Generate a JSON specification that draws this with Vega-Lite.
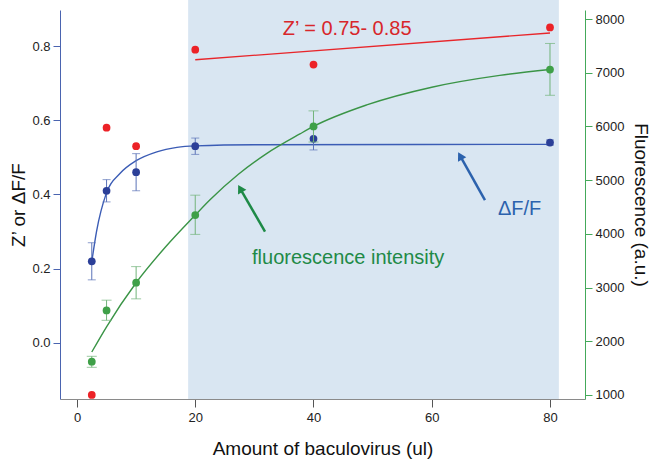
{
  "$schema": "https://vega.github.io/schema/vega-lite/v6.json",
  "width": 525,
  "height": 389,
  "autosize": {"type": "none"},
  "padding": {"left": 60, "top": 10, "right": 75, "bottom": 63},
  "background": "white",
  "config": {
    "font": "Liberation Sans",
    "view": {"stroke": null},
    "axis": {"grid": false, "labelFontSize": 13, "labelColor": "#222222", "titleFontSize": 19, "titleFontWeight": "normal", "titleColor": "#111111", "labelFont": "Liberation Sans", "titleFont": "Liberation Sans"}
  },
  "datasets": {
    "shade": [{"x": 18.8, "x2": 81.5, "v": -0.151, "v2": 0.924}],
    "zfit": [{"x": 20, "v": 0.763}, {"x": 80, "v": 0.835}],
    "zpts": [{"x": 2.5, "v": -0.14}, {"x": 5, "v": 0.58}, {"x": 10, "v": 0.53}, {"x": 20, "v": 0.79}, {"x": 40, "v": 0.75}, {"x": 80, "v": 0.85}],
    "dff": [
      {"x": 2.5, "v": 0.22, "lo": 0.17, "hi": 0.27},
      {"x": 5, "v": 0.41, "lo": 0.38, "hi": 0.44},
      {"x": 10, "v": 0.46, "lo": 0.41, "hi": 0.51},
      {"x": 20, "v": 0.53, "lo": 0.508, "hi": 0.552},
      {"x": 40, "v": 0.55, "lo": 0.52, "hi": 0.58},
      {"x": 80, "v": 0.54, "lo": 0.533, "hi": 0.547}
    ],
    "dffit": [
      {"x": 2.5, "v": 0.219}, {"x": 3.3, "v": 0.30}, {"x": 5, "v": 0.405}, {"x": 7.3, "v": 0.457},
      {"x": 10, "v": 0.491}, {"x": 13.5, "v": 0.515}, {"x": 16.9, "v": 0.527}, {"x": 20, "v": 0.531},
      {"x": 30, "v": 0.534}, {"x": 80, "v": 0.535}
    ],
    "fl": [
      {"x": 2.5, "f": 1620, "lo": 1515, "hi": 1720},
      {"x": 5, "f": 2575, "lo": 2390, "hi": 2765},
      {"x": 10, "f": 3090, "lo": 2790, "hi": 3390},
      {"x": 20, "f": 4350, "lo": 3990, "hi": 4720},
      {"x": 40, "f": 6000, "lo": 5710, "hi": 6290},
      {"x": 80, "f": 7060, "lo": 6580, "hi": 7545}
    ],
    "flfit": [
      {"x": 2.5, "f": 1800}, {"x": 5, "f": 2270}, {"x": 10, "f": 3090}, {"x": 15, "f": 3760},
      {"x": 20, "f": 4350}, {"x": 22.5, "f": 4635}, {"x": 27.3, "f": 5110}, {"x": 32, "f": 5490},
      {"x": 37.7, "f": 5860}, {"x": 40, "f": 6000}, {"x": 49, "f": 6400}, {"x": 60, "f": 6730},
      {"x": 71.5, "f": 6950}, {"x": 80, "f": 7060}
    ],
    "arrows": [
      {"x": 69.0, "v": 0.385, "x2": 64.8, "v2": 0.504, "c": "b"},
      {"x": 31.8, "v": 0.300, "x2": 27.6, "v2": 0.416, "c": "g"}
    ],
    "heads": [
      {"x": 64.8, "v": 0.504, "c": "b"},
      {"x": 27.6, "v": 0.416, "c": "g"}
    ],
    "texts": [
      {"x": 34.8, "v": 0.8296, "t": "Z’ = 0.75- 0.85", "c": "r"},
      {"x": 71.2, "v": 0.345, "t": "ΔF/F", "c": "b"},
      {"x": 29.6, "v": 0.2128, "t": "fluorescence intensity", "c": "g"}
    ]
  },
  "encoding": {
    "x": {
      "field": "x", "type": "quantitative",
      "scale": {"domain": [-2.875, 85.92], "nice": false, "zero": false},
      "axis": {"values": [0, 20, 40, 60, 80], "title": "Amount of baculovirus (ul)", "domainColor": "#8a8a8a", "tickColor": "#555555", "tickSize": 8, "labelPadding": 4, "titlePadding": 15, "zindex": 1}
    }
  },
  "layer": [
    {"data": {"name": "shade"}, "mark": {"type": "rect", "color": "#d9e6f2"},
     "encoding": {"x2": {"field": "x2"},
       "y": {"field": "v", "type": "quantitative", "scale": {"domain": [-0.151, 0.897], "nice": false, "zero": false},
             "axis": {"orient": "left", "values": [0, 0.2, 0.4, 0.6, 0.8], "format": ".1f", "title": "Z’ or ΔF/F", "domainColor": "#4a64b0", "tickColor": "#4a64b0", "tickSize": 7, "labelPadding": 3, "titlePadding": 3, "zindex": 1}},
       "y2": {"field": "v2"}}},
    {"data": {"name": "zfit"}, "mark": {"type": "line", "color": "#e8262b", "strokeWidth": 1.3},
     "encoding": {"y": {"field": "v", "type": "quantitative", "scale": {"domain": [-0.151, 0.897], "nice": false, "zero": false}, "axis": null}}},
    {"data": {"name": "zpts"}, "mark": {"type": "point", "filled": true, "size": 60, "opacity": 1, "color": "#ec2227"},
     "encoding": {"y": {"field": "v", "type": "quantitative", "scale": {"domain": [-0.151, 0.897], "nice": false, "zero": false}, "axis": null}}},
    {"data": {"name": "dffit"}, "mark": {"type": "line", "interpolate": "monotone", "strokeWidth": 1.4, "color": "#3b5cb5"},
     "encoding": {"y": {"field": "v", "type": "quantitative", "scale": {"domain": [-0.151, 0.897], "nice": false, "zero": false}, "axis": null}}},
    {"data": {"name": "dff"}, "mark": {"type": "rule", "strokeWidth": 1, "color": "#5b73b8"},
     "encoding": {"y": {"field": "lo", "type": "quantitative", "scale": {"domain": [-0.151, 0.897], "nice": false, "zero": false}, "axis": null}, "y2": {"field": "hi"}}},
    {"data": {"name": "dff"}, "mark": {"type": "tick", "orient": "horizontal", "size": 8, "thickness": 1, "color": "#5b73b8"},
     "encoding": {"y": {"field": "lo", "type": "quantitative", "scale": {"domain": [-0.151, 0.897], "nice": false, "zero": false}, "axis": null}}},
    {"data": {"name": "dff"}, "mark": {"type": "tick", "orient": "horizontal", "size": 8, "thickness": 1, "color": "#5b73b8"},
     "encoding": {"y": {"field": "hi", "type": "quantitative", "scale": {"domain": [-0.151, 0.897], "nice": false, "zero": false}, "axis": null}}},
    {"data": {"name": "dff"}, "mark": {"type": "point", "filled": true, "size": 60, "opacity": 1, "color": "#2b3f98"},
     "encoding": {"y": {"field": "v", "type": "quantitative", "scale": {"domain": [-0.151, 0.897], "nice": false, "zero": false}, "axis": null}}},
    {"data": {"name": "arrows"}, "mark": {"type": "rule", "strokeWidth": 2.5},
     "encoding": {"x2": {"field": "x2"},
       "y": {"field": "v", "type": "quantitative", "scale": {"domain": [-0.151, 0.897], "nice": false, "zero": false}, "axis": null},
       "y2": {"field": "v2"},
       "color": {"field": "c", "type": "nominal", "scale": {"domain": ["r", "b", "g"], "range": ["#d8262b", "#2c62ad", "#1e8a47"]}, "legend": null}}},
    {"data": {"name": "heads"}, "mark": {"type": "point", "shape": "triangle-up", "filled": true, "size": 90, "angle": 331, "opacity": 1},
     "encoding": {
       "y": {"field": "v", "type": "quantitative", "scale": {"domain": [-0.151, 0.897], "nice": false, "zero": false}, "axis": null},
       "color": {"field": "c", "type": "nominal", "scale": {"domain": ["r", "b", "g"], "range": ["#d8262b", "#2c62ad", "#1e8a47"]}, "legend": null}}},
    {"data": {"name": "texts"}, "mark": {"type": "text", "align": "left", "baseline": "alphabetic", "fontSize": 20, "font": "Liberation Sans"},
     "encoding": {"text": {"field": "t"},
       "y": {"field": "v", "type": "quantitative", "scale": {"domain": [-0.151, 0.897], "nice": false, "zero": false}, "axis": null},
       "color": {"field": "c", "type": "nominal", "scale": {"domain": ["r", "b", "g"], "range": ["#d8262b", "#2c62ad", "#1e8a47"]}, "legend": null}}},
    {"data": {"name": "flfit"}, "mark": {"type": "line", "interpolate": "monotone", "strokeWidth": 1.4, "color": "#3a9446"},
     "encoding": {"y": {"field": "f", "type": "quantitative", "scale": {"domain": [925, 8168], "nice": false, "zero": false},
       "axis": {"orient": "right", "values": [1000, 2000, 3000, 4000, 5000, 6000, 7000, 8000], "format": "d", "title": "Fluorescence (a.u.)", "domainColor": "#44a95a", "tickColor": "#44a95a", "tickSize": 7, "labelPadding": 3, "titlePadding": 7, "zindex": 1}}}},
    {"data": {"name": "fl"}, "mark": {"type": "rule", "strokeWidth": 1, "color": "#72b47a"},
     "encoding": {"y": {"field": "lo", "type": "quantitative", "scale": {"domain": [925, 8168], "nice": false, "zero": false}, "axis": null}, "y2": {"field": "hi"}}},
    {"data": {"name": "fl"}, "mark": {"type": "tick", "orient": "horizontal", "size": 10, "thickness": 1, "color": "#72b47a"},
     "encoding": {"y": {"field": "lo", "type": "quantitative", "scale": {"domain": [925, 8168], "nice": false, "zero": false}, "axis": null}}},
    {"data": {"name": "fl"}, "mark": {"type": "tick", "orient": "horizontal", "size": 10, "thickness": 1, "color": "#72b47a"},
     "encoding": {"y": {"field": "hi", "type": "quantitative", "scale": {"domain": [925, 8168], "nice": false, "zero": false}, "axis": null}}},
    {"data": {"name": "fl"}, "mark": {"type": "point", "filled": true, "size": 60, "opacity": 1, "color": "#3fa048"},
     "encoding": {"y": {"field": "f", "type": "quantitative", "scale": {"domain": [925, 8168], "nice": false, "zero": false}, "axis": null}}}
  ],
  "resolve": {"scale": {"y": "independent"}, "axis": {"y": "independent"}}
}
